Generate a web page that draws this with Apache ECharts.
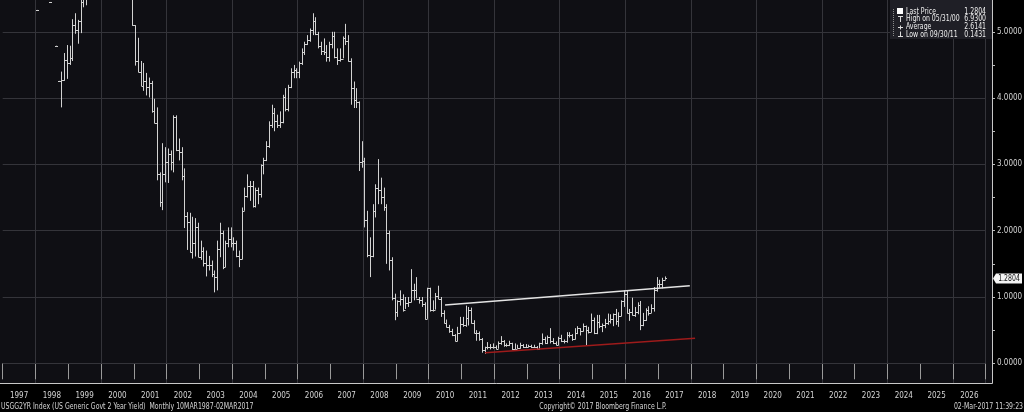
<!DOCTYPE html>
<html><head><meta charset="utf-8">
<script src="https://cdn.jsdelivr.net/npm/echarts@6/dist/echarts.min.js"></script>
<style>html,body{margin:0;padding:0;background:#000;}#c{width:1024px;height:412px;}</style>
</head><body><div id="c"></div>
<script>
// ---------- data ----------
const startYear = 1997;
const yearLabels = ['1997','1998','1999','2000','2001','2002','2003','2004','2005','2006','2007','2008','2009','2010','2011','2012','2013','2014','2015','2016','2017','2018','2019','2020','2021','2022','2023','2024','2025','2026'];
const yLabelValues = [0,1,2,3,4,5];
const yTickValues = [0,0.5,1,1.5,2,2.5,3,3.5,4,4.5,5];
// monthly OHLC, Jan 1997 .. Mar 2017 (before Oct 1998 only last price is available)
const opens = [
6.01,6.07,6.42,6.38,6.27,6.11,5.76,6.01,5.80,5.61,5.74,5.66,
5.33,5.53,5.55,5.58,5.52,5.45,5.51,4.79,4.26,4.26,4.27,4.58,
4.53,4.61,5.11,5.02,5.16,5.45,5.52,5.65,5.75,5.74,5.95,6.06,
6.24,6.60,6.52,6.48,6.68,6.77,6.37,6.26,6.12,5.98,5.88,5.60,
5.10,4.56,4.39,4.18,4.26,4.16,4.23,3.81,3.62,2.85,2.43,2.85,
3.03,3.15,3.04,3.71,3.21,3.19,2.82,2.22,2.13,1.68,1.82,2.06,
1.60,1.69,1.51,1.49,1.49,1.35,1.30,1.73,1.96,1.45,1.82,1.87,
1.82,1.82,1.62,1.57,2.30,2.53,2.68,2.68,2.38,2.61,2.55,2.99,
3.07,3.27,3.60,3.78,3.65,3.60,3.64,4.02,3.83,4.17,4.40,4.42,
4.40,4.53,4.69,4.82,4.87,5.03,5.16,4.97,4.79,4.71,4.70,4.62,
4.82,4.93,4.62,4.58,4.59,4.91,4.86,4.56,4.15,3.97,3.94,3.04,
3.05,2.16,1.63,1.62,2.29,2.65,2.62,2.51,2.36,1.96,1.56,0.98,
0.77,0.94,0.97,0.81,0.91,0.92,1.11,1.11,0.97,0.95,0.90,0.67,
1.14,0.81,0.81,1.02,0.97,0.76,0.61,0.55,0.48,0.42,0.34,0.45,
0.60,0.58,0.69,0.80,0.61,0.45,0.46,0.36,0.20,0.25,0.24,0.25,
0.24,0.22,0.30,0.33,0.27,0.27,0.30,0.22,0.22,0.23,0.28,0.25,
0.25,0.26,0.24,0.24,0.21,0.30,0.36,0.31,0.40,0.33,0.31,0.28,
0.38,0.33,0.33,0.42,0.42,0.37,0.46,0.53,0.48,0.57,0.50,0.47,
0.66,0.45,0.62,0.56,0.58,0.61,0.64,0.67,0.74,0.64,0.72,0.94,
1.05,0.76,0.78,0.73,0.78,0.88,0.58,0.66,0.81,0.76,0.84,1.11,
1.19,1.19,1.26];
const highs = [
6.01,6.07,6.42,6.38,6.27,6.11,5.76,6.01,5.80,5.61,5.74,5.66,
5.33,5.53,5.55,5.58,5.52,5.45,5.51,4.79,4.26,4.40,4.68,4.80,
4.79,5.19,5.28,5.18,5.48,5.80,5.70,5.85,5.85,6.05,6.10,6.30,
6.65,6.75,6.62,6.70,6.93,6.80,6.45,6.30,6.15,6.00,5.95,5.62,
5.10,4.91,4.56,4.53,4.38,4.31,4.26,3.99,3.86,2.88,3.32,3.26,
3.24,3.21,3.74,3.74,3.39,3.26,2.94,2.28,2.27,2.21,2.19,2.12,
1.85,1.75,1.70,1.62,1.55,1.40,1.85,2.12,2.00,1.85,2.05,2.05,
1.90,1.85,1.70,2.35,2.65,2.85,2.75,2.75,2.65,2.65,3.00,3.10,
3.35,3.65,3.90,3.85,3.75,3.80,4.05,4.15,4.20,4.45,4.50,4.45,
4.55,4.75,4.85,4.95,5.05,5.28,5.22,5.00,4.85,4.90,4.80,4.85,
5.00,5.00,4.75,4.75,4.93,5.12,4.95,4.60,4.25,4.15,3.95,3.35,
3.10,2.30,1.90,2.40,2.70,3.08,2.80,2.65,2.40,2.00,1.60,1.05,
0.95,1.10,1.04,1.00,1.00,1.42,1.20,1.30,1.00,1.00,0.92,1.14,
1.14,0.95,1.06,1.17,1.00,0.80,0.66,0.58,0.52,0.44,0.55,0.70,
0.70,0.87,0.85,0.84,0.65,0.50,0.48,0.38,0.25,0.32,0.29,0.30,
0.27,0.33,0.41,0.35,0.30,0.34,0.31,0.30,0.28,0.31,0.29,0.29,
0.28,0.28,0.28,0.26,0.31,0.45,0.40,0.42,0.53,0.38,0.33,0.40,
0.43,0.36,0.47,0.47,0.44,0.53,0.56,0.53,0.60,0.57,0.55,0.75,
0.69,0.73,0.73,0.60,0.67,0.75,0.74,0.75,0.82,0.77,0.95,1.10,
1.09,0.82,0.99,0.85,0.92,0.94,0.76,0.83,0.86,0.89,1.15,1.30,
1.26,1.29,1.31];
const lows = [
6.01,6.07,6.42,6.38,6.27,6.11,5.76,6.01,5.80,5.61,5.74,5.66,
5.33,5.53,5.55,5.58,5.52,5.45,5.51,4.79,4.26,3.86,4.26,4.29,
4.50,4.56,4.97,4.82,4.98,5.37,5.40,5.60,5.60,5.70,5.80,6.00,
6.20,6.45,6.40,6.40,6.60,6.30,6.20,6.05,5.90,5.80,5.55,5.09,
4.49,4.39,4.18,4.11,4.04,4.01,3.78,3.62,2.76,2.36,2.31,2.73,
2.72,2.91,2.88,3.20,3.06,2.76,2.04,1.71,1.67,1.58,1.61,1.60,
1.56,1.46,1.31,1.40,1.30,1.07,1.10,1.60,1.42,1.45,1.75,1.75,
1.70,1.60,1.45,1.57,2.30,2.50,2.45,2.35,2.35,2.40,2.50,2.85,
3.05,3.25,3.55,3.50,3.55,3.55,3.62,3.80,3.80,4.15,4.30,4.30,
4.30,4.50,4.65,4.80,4.85,4.95,4.95,4.75,4.65,4.65,4.55,4.55,
4.75,4.60,4.50,4.55,4.60,4.80,4.55,3.90,3.85,3.85,2.90,2.95,
2.05,1.60,1.30,1.60,2.20,2.40,2.40,2.30,1.50,1.40,0.95,0.65,
0.70,0.87,0.78,0.82,0.85,0.92,0.95,0.98,0.90,0.85,0.66,0.67,
0.78,0.78,0.81,0.97,0.70,0.60,0.54,0.46,0.41,0.33,0.33,0.45,
0.55,0.55,0.57,0.60,0.45,0.34,0.34,0.16,0.1431,0.21,0.21,0.22,
0.21,0.22,0.28,0.25,0.25,0.26,0.20,0.21,0.22,0.22,0.23,0.23,
0.24,0.23,0.23,0.20,0.21,0.28,0.29,0.29,0.30,0.29,0.27,0.27,
0.32,0.30,0.31,0.39,0.34,0.36,0.44,0.42,0.48,0.27,0.45,0.47,
0.44,0.44,0.53,0.47,0.53,0.58,0.60,0.56,0.58,0.55,0.71,0.85,
0.75,0.64,0.72,0.70,0.74,0.50,0.56,0.64,0.72,0.76,0.78,1.08,
1.14,1.13,1.26];
const closes = [
6.01,6.07,6.42,6.38,6.27,6.11,5.76,6.01,5.80,5.61,5.74,5.66,
5.33,5.53,5.55,5.58,5.52,5.45,5.51,4.79,4.26,4.27,4.58,4.53,
4.61,5.11,5.02,5.16,5.45,5.52,5.65,5.75,5.74,5.95,6.06,6.24,
6.60,6.52,6.48,6.68,6.77,6.37,6.26,6.12,5.98,5.88,5.60,5.10,
4.56,4.39,4.18,4.26,4.16,4.23,3.81,3.62,2.85,2.43,2.85,3.03,
3.15,3.04,3.71,3.21,3.19,2.82,2.22,2.13,1.68,1.82,2.06,1.60,
1.69,1.51,1.49,1.49,1.35,1.30,1.73,1.96,1.45,1.82,1.87,1.82,
1.82,1.62,1.57,2.30,2.53,2.68,2.68,2.38,2.61,2.55,2.99,3.07,
3.27,3.60,3.78,3.65,3.60,3.64,4.02,3.83,4.17,4.40,4.42,4.40,
4.53,4.69,4.82,4.87,5.03,5.16,4.97,4.79,4.71,4.70,4.62,4.82,
4.93,4.62,4.58,4.59,4.91,4.86,4.56,4.15,3.97,3.94,3.04,3.05,
2.16,1.63,1.62,2.29,2.65,2.62,2.51,2.36,1.96,1.56,0.98,0.77,
0.94,0.97,0.81,0.91,0.92,1.11,1.11,0.97,0.95,0.90,0.67,1.14,
0.81,0.81,1.02,0.97,0.76,0.61,0.55,0.48,0.42,0.34,0.45,0.60,
0.58,0.69,0.80,0.61,0.45,0.46,0.36,0.20,0.25,0.24,0.25,0.24,
0.22,0.30,0.33,0.27,0.27,0.30,0.22,0.22,0.23,0.28,0.25,0.25,
0.26,0.24,0.24,0.21,0.30,0.36,0.31,0.40,0.33,0.31,0.28,0.38,
0.33,0.33,0.42,0.42,0.37,0.46,0.53,0.48,0.57,0.50,0.47,0.66,
0.45,0.62,0.56,0.58,0.61,0.64,0.67,0.74,0.64,0.72,0.94,1.05,
0.76,0.78,0.73,0.78,0.88,0.58,0.66,0.81,0.76,0.84,1.11,1.19,
1.19,1.26,1.2804];
const whiteTrend = [[2010.50,0.879],[2017.97,1.170]];
const redTrend = [[2011.72,0.160],[2018.13,0.377]];
const lastPrice = 1.2804;
const legendNames = ['Last Price','High on 05/31/00','Average','Low on 09/30/11'];
const legendValues = ['1.2804','6.9300','2.6141','0.1431'];
const footerLeft = 'USGG2YR Index (US Generic Govt 2 Year Yield)  Monthly 10MAR1987-02MAR2017';
const footerMid = 'Copyright\u00A9 2017 Bloomberg Finance L.P.';
const footerRight = '02-Mar-2017 11:39:23';

// ---------- chart ----------
const FONT = "'Liberation Sans Narrow','DejaVu Sans Condensed','Arial Narrow','Liberation Sans',sans-serif";
const TXT = '#d4d4d4';
const SX = 0.86; // horizontal squeeze for the narrow Bloomberg font
const bars = opens.map((o, i) => [startYear + (i + 0.5) / 12, o, highs[i], lows[i], closes[i]]);

const PLOT_R = 992, PLOT_B = 383;
const yMin = -(383 - 363.3) / 66.3, yMax = 363.3 / 66.3;

const chart = echarts.init(document.getElementById('c'), null, {renderer: 'canvas'});

function renderItem(params, api) {
  const t = api.value(0);
  const pO = api.coord([t, api.value(1)]);
  const pH = api.coord([t, api.value(2)]);
  const pL = api.coord([t, api.value(3)]);
  const pC = api.coord([t, api.value(4)]);
  const x = Math.round(pH[0]) + 0.5;
  let y1 = pH[1], y2 = pL[1];
  if (y2 - y1 < 1) { y2 = y1 + 1; }
  const yo = Math.round(pO[1]) + 0.5, yc = Math.round(pC[1]) + 0.5;
  const style = {stroke: '#d2d2d2', lineWidth: 1};
  return {type: 'group', children: [
    {type: 'line', shape: {x1: x, y1: y1, x2: x, y2: y2}, style: style},
    {type: 'line', shape: {x1: x - 1.5, y1: yo, x2: x, y2: yo}, style: style},
    {type: 'line', shape: {x1: x, y1: yc, x2: x + 1.5, y2: yc}, style: style}
  ]};
}

function txt(id, x, y, text, align, color, z) {
  return {type: 'text', id: id, x: x, y: y, scaleX: SX, z: z || 10,
    style: {text: text, fill: color || TXT, font: '8px ' + FONT, textAlign: align || 'left', textVerticalAlign: 'middle'}};
}

const legendEls = [
  {type: 'rect', id: 'lgbox', shape: {x: 890, y: 0, width: 102, height: 39}, style: {fill: '#1f1f26'}, z: 50},
  {type: 'line', id: 'lgdot', shape: {x1: 893.5, y1: 9, x2: 893.5, y2: 36}, style: {stroke: '#8a8a8a', lineWidth: 1, lineDash: [1, 1]}, z: 51},
  {type: 'rect', id: 'lgsq', shape: {x: 897, y: 8, width: 6, height: 6}, style: {fill: '#ffffff'}, z: 51},
  {type: 'polyline', id: 'lgT', shape: {points: [[898, 16.5], [903, 16.5]]}, style: {stroke: '#ddd', lineWidth: 1}, z: 51},
  {type: 'polyline', id: 'lgT2', shape: {points: [[900.5, 16.5], [900.5, 22]]}, style: {stroke: '#ddd', lineWidth: 1}, z: 51},
  {type: 'polyline', id: 'lgP', shape: {points: [[898, 27.5], [903, 27.5]]}, style: {stroke: '#ddd', lineWidth: 1}, z: 51},
  {type: 'polyline', id: 'lgP2', shape: {points: [[900.5, 25.5], [900.5, 29.5]]}, style: {stroke: '#ddd', lineWidth: 1}, z: 51},
  {type: 'polyline', id: 'lgL', shape: {points: [[900.5, 31.5], [900.5, 36.5]]}, style: {stroke: '#ddd', lineWidth: 1}, z: 51},
  {type: 'polyline', id: 'lgL2', shape: {points: [[898, 36.5], [903, 36.5]]}, style: {stroke: '#ddd', lineWidth: 1}, z: 51}
];
legendNames.forEach((n, i) => {
  const yy = 11.7 + i * 7.7;
  legendEls.push(txt('ln' + i, 906, yy, n, 'left', '#ededed', 52));
  legendEls.push(txt('lv' + i, 986, yy, legendValues[i], 'right', '#ededed', 52));
});

const baseGraphics = [
  {type: 'rect', id: 'plotbg', shape: {x: 0, y: 0, width: PLOT_R, height: PLOT_B}, style: {fill: '#0f0f14'}, z: -100, silent: true},
  {type: 'polyline', id: 'border', shape: {points: [[0, PLOT_B + 0.5], [PLOT_R + 0.5, PLOT_B + 0.5], [PLOT_R + 0.5, 0]]}, style: {stroke: '#c8c8c8', lineWidth: 1, fill: null}, z: 60, silent: true},
  txt('fl', 1, 407, footerLeft, 'left'),
  txt('fm', 603, 407, footerMid, 'center'),
  txt('fr', 1023, 407, footerRight, 'right')
].concat(legendEls);

chart.setOption({
  backgroundColor: '#000000',
  animation: false,
  textStyle: {fontFamily: FONT},
  grid: {left: 2.7, right: 38.3, top: 0, bottom: 29, containLabel: false, outerBoundsMode: 'none'},
  xAxis: [
    {type: 'category', data: yearLabels, boundaryGap: true, position: 'bottom',
     axisLine: {show: false},
     axisTick: {show: true, interval: 0, length: 16, lineStyle: {color: '#9a9a9a', width: 1}},
     axisLabel: {show: true, interval: 0, color: TXT, fontSize: 8, fontFamily: FONT, margin: 9},
     splitLine: {show: true, interval: function (idx, val) { return Number(val) % 2 === 0; }, lineStyle: {color: '#34343a', width: 1}}},
    {type: 'value', min: 1997, max: 2027, show: false, splitLine: {show: false}}
  ],
  yAxis: [{type: 'value', min: yMin, max: yMax, position: 'right', offset: 6.3,
    axisLine: {show: false},
    axisTick: {show: true, customValues: yTickValues, length: 3, lineStyle: {color: '#bbbbbb'}},
    axisLabel: {show: true, customValues: yLabelValues, color: TXT, fontSize: 8, fontFamily: FONT, margin: 5,
      formatter: function (v) { return Number(v).toFixed(4); }},
    splitLine: {show: false}}],
  series: [
    {type: 'custom', name: 'USGG2YR', xAxisIndex: 1, yAxisIndex: 0, data: bars, renderItem: renderItem,
     encode: {x: 0, y: [1, 2, 3, 4]}, clip: true, z: 3, silent: true,
     markLine: {silent: true, symbol: 'none', z: 1, animation: false, label: {show: false},
       lineStyle: {color: '#34343a', width: 1, type: 'solid'},
       data: yLabelValues.map(v => ({yAxis: v}))}},
    {type: 'line', xAxisIndex: 1, yAxisIndex: 0, data: whiteTrend, showSymbol: false, symbol: 'none', silent: true, z: 4,
     lineStyle: {color: '#e4e4e4', width: 1.3}},
    {type: 'line', xAxisIndex: 1, yAxisIndex: 0, data: redTrend, showSymbol: false, symbol: 'none', silent: true, z: 4,
     lineStyle: {color: '#9e1b1b', width: 1.6}}
  ],
  graphic: {elements: baseGraphics}
});

// last price tag on the axis, positioned through the y scale
const py = Math.round(chart.convertToPixel({yAxisIndex: 0}, lastPrice)) + 0.5;
chart.setOption({graphic: {elements: [
  {type: 'polygon', id: 'lpbox', shape: {points: [[993, py], [996, py - 5], [1022, py - 5], [1022, py + 5], [996, py + 5]]}, style: {fill: '#f4f4f4'}, z: 70},
  txt('lptxt', 1009, py, lastPrice.toFixed(4), 'center', '#111', 71)
]}});
</script></body></html>
